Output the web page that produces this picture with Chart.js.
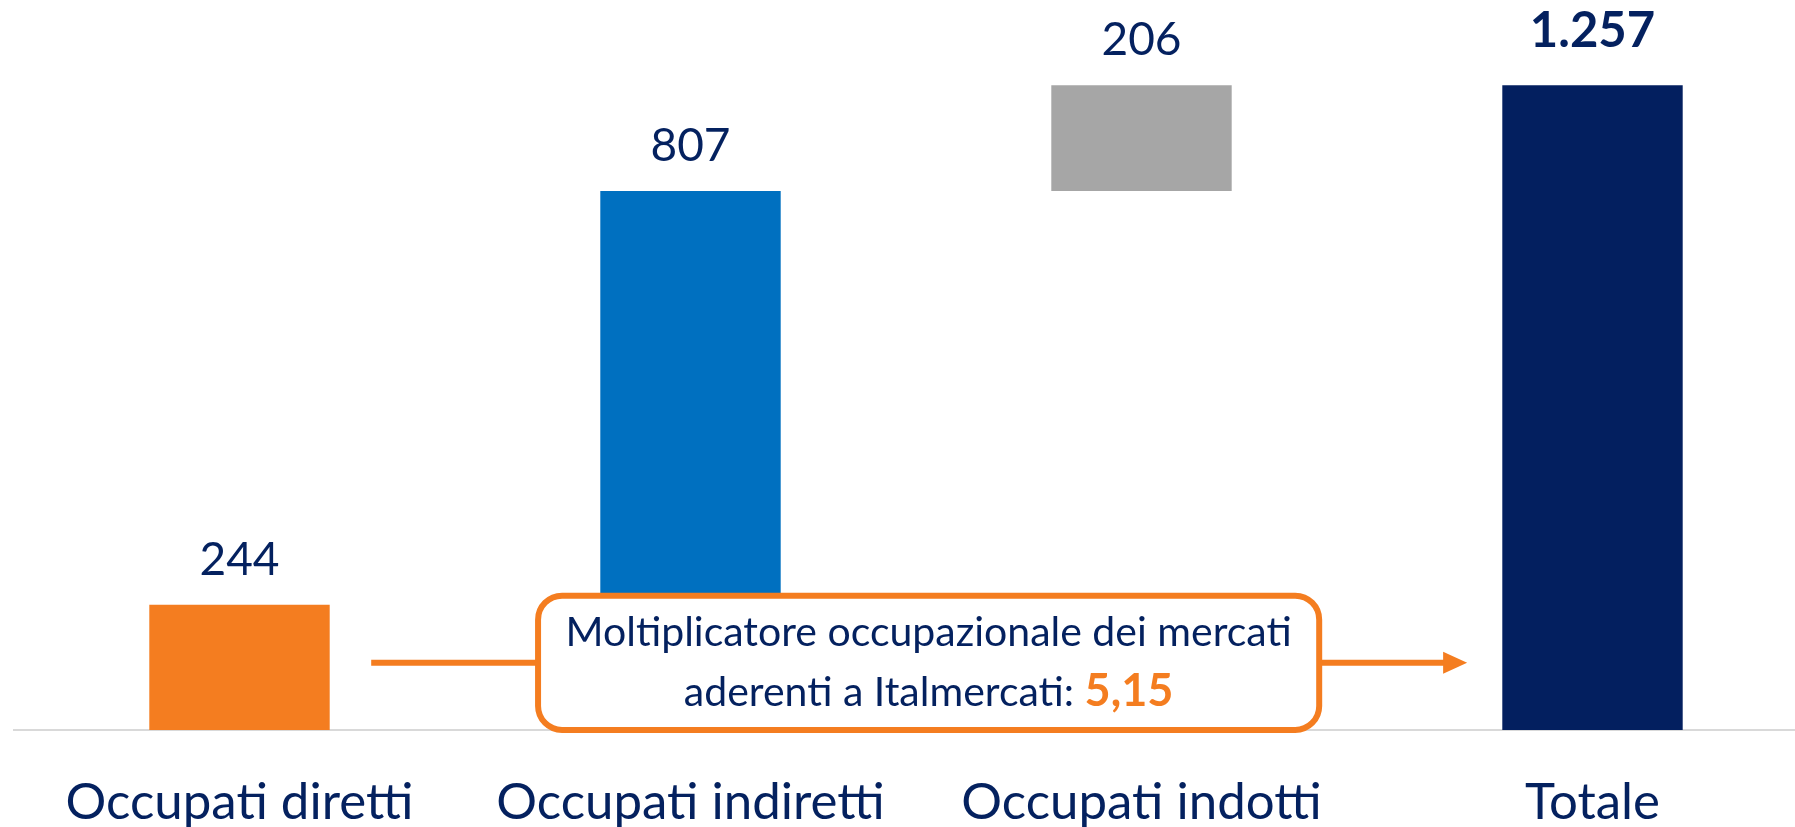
<!DOCTYPE html>
<html>
<head>
<meta charset="utf-8">
<script src="https://cdn.jsdelivr.net/npm/chart.js@4/dist/chart.umd.min.js"></script>
<style>
    html, body { margin: 0; padding: 0; background: #fff; overflow: hidden; }
    #wrap { position: relative; width: 1820px; height: 875px; }
</style>
</head>
<body>
<div id="wrap"><canvas id="chart"></canvas></div>
<script>
// Data
const categories = ["Occupati diretti", "Occupati indiretti", "Occupati indotti", "Totale"];
const values = [244, 807, 206, 1257];
const valueLabels = ["244", "807", "206", "1.257"];
const isTotal = [false, false, false, true];
const barColors = ["#F47D20", "#0070C0", "#A6A6A6", "#031F5F"];
const calloutLines = ["Moltiplicatore occupazionale dei mercati", "aderenti a Italmercati: "];
const multiplier = "5,15";

const NAVY = "#04215F";
const ORANGE = "#F47D20";
const FONT = "Lato, 'Noto Sans', sans-serif";

// waterfall: each step floats on the running sum, the total starts from zero
let running = 0;
const floating = values.map((v, i) => {
    if (isTotal[i]) return [0, v];
    const seg = [running, running + v];
    running += v;
    return seg;
});

// value labels above each bar
const valueLabelPlugin = {
    id: "valueLabels",
    afterDatasetsDraw(chart) {
        const ctx = chart.ctx;
        const meta = chart.getDatasetMeta(0);
        ctx.save();
        ctx.textAlign = "center";
        ctx.textBaseline = "alphabetic";
        ctx.fillStyle = NAVY;
        meta.data.forEach((bar, i) => {
            const top = Math.min(bar.y, bar.base);
            ctx.font = isTotal[i] ? "bold 49px " + FONT : "46px " + FONT;
            ctx.fillText(valueLabels[i], bar.x, top - (isTotal[i] ? 38 : 30));
        });
        ctx.restore();
    }
};

// callout box with arrow from the first bar to the total
const calloutPlugin = {
    id: "callout",
    afterDraw(chart) {
        const ctx = chart.ctx;
        const x = chart.scales.x;
        const y = chart.scales.y;
        const left = x.getPixelForValue(0.662);
        const right = x.getPixelForValue(2.394);
        const top = y.getPixelForValue(262);
        const bottom = y.getPixelForValue(0);
        const mid = (top + bottom) / 2;
        const lineStart = x.getPixelForValue(0.292);
        const tip = x.getPixelForValue(2.722);

        ctx.save();
        // arrow line
        ctx.strokeStyle = ORANGE;
        ctx.lineWidth = 6;
        ctx.beginPath();
        ctx.moveTo(lineStart, mid);
        ctx.lineTo(tip - 20, mid);
        ctx.stroke();
        ctx.fillStyle = ORANGE;
        ctx.beginPath();
        ctx.moveTo(tip, mid);
        ctx.lineTo(tip - 24, mid - 11);
        ctx.lineTo(tip - 24, mid + 11);
        ctx.closePath();
        ctx.fill();

        // box
        ctx.beginPath();
        ctx.roundRect(left, top, right - left, bottom - top, 24);
        ctx.fillStyle = "#fff";
        ctx.fill();
        ctx.lineWidth = 6;
        ctx.strokeStyle = ORANGE;
        ctx.stroke();

        // text
        const cx = (left + right) / 2;
        ctx.textBaseline = "alphabetic";
        ctx.fillStyle = NAVY;
        ctx.font = "41px " + FONT;
        ctx.textAlign = "center";
        ctx.fillText(calloutLines[0], cx, mid - 17);

        const w1 = ctx.measureText(calloutLines[1]).width;
        ctx.font = "bold 45px " + FONT;
        const w2 = ctx.measureText(multiplier).width;
        const start = cx - (w1 + w2) / 2;
        ctx.textAlign = "left";
        ctx.font = "41px " + FONT;
        ctx.fillText(calloutLines[1], start, mid + 43);
        ctx.font = "bold 45px " + FONT;
        ctx.fillStyle = ORANGE;
        ctx.fillText(multiplier, start + w1, mid + 43);
        ctx.restore();
    }
};

const ctx = document.getElementById("chart").getContext("2d");
const chart = new Chart(ctx, {
    type: "bar",
    data: {
        labels: categories,
        datasets: [{
            data: floating,
            backgroundColor: barColors,
            borderWidth: 0,
            categoryPercentage: 1,
            barPercentage: 0.4
        }]
    },
    options: {
        responsive: true,
        maintainAspectRatio: false,
        animation: false,
        layout: { padding: { left: 14, right: 2, top: 12, bottom: 0 } },
        plugins: {
            legend: { display: false },
            tooltip: { enabled: false }
        },
        scales: {
            x: {
                grid: { display: false, drawTicks: false },
                border: { display: true, color: "#D9D9D9", width: 2 },
                ticks: {
                    color: NAVY,
                    padding: 47,
                    font: { family: FONT, size: 51, lineHeight: 1 }
                }
            },
            y: {
                display: false,
                min: 0,
                max: 1400
            }
        }
    },
    plugins: [valueLabelPlugin, calloutPlugin]
});
</script>
</body>
</html>
